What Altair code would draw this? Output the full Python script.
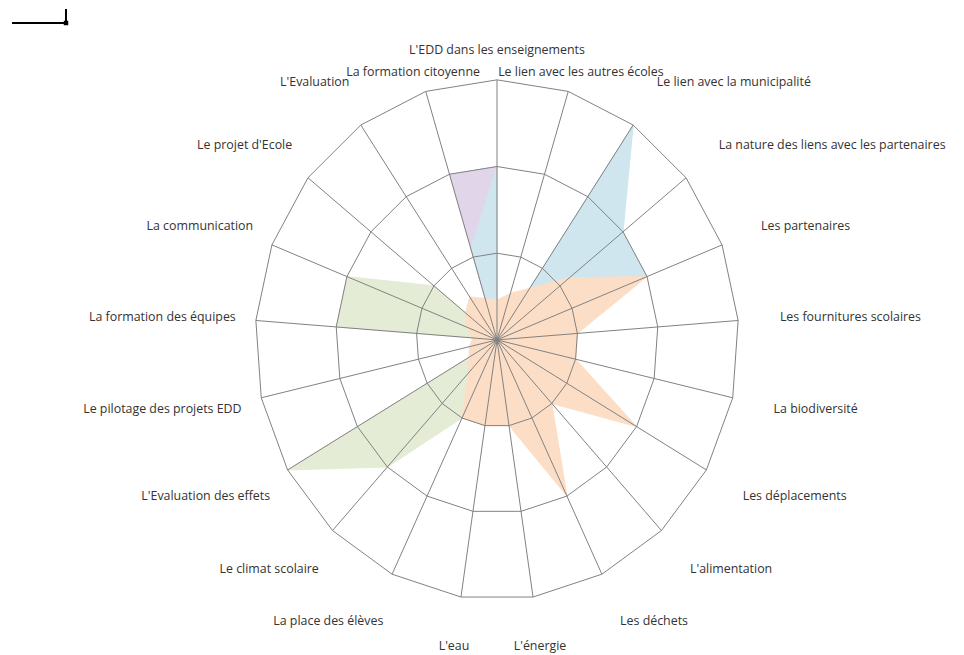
import altair as alt
import pandas as pd

# ---- data -------------------------------------------------------------
categories = [
    "L'EDD dans les enseignements",
    "Le lien avec les autres écoles",
    "Le lien avec la municipalité",
    "La nature des liens avec les partenaires",
    "Les partenaires",
    "Les fournitures scolaires",
    "La biodiversité",
    "Les déplacements",
    "L'alimentation",
    "Les déchets",
    "L'énergie",
    "L'eau",
    "La place des élèves",
    "Le climat scolaire",
    "L'Evaluation des effets",
    "Le pilotage des projets EDD",
    "La formation des équipes",
    "La communication",
    "Le projet d'Ecole",
    "L'Evaluation",
    "La formation citoyenne",
]

purple_values = [2, 0, 0, 0, 0, 0, 0, 0, 0, 0, 0, 0, 0, 0, 0, 0, 0, 0, 0, 0, 2]
blue_values = [2, 0, 3, 2, 2, 0, 0, 0, 0, 0, 0, 0, 0, 0, 0, 0, 0, 0, 0, 0, 1.1]
green_values = [0, 0, 0, 0, 0, 0, 0, 0, 0, 0, 0, 0, 1, 2, 3, 0, 2, 2, 1, 0, 0]
orange_values = [0.46, 0.56, 0.72, 1.15, 2, 1, 1, 2, 1, 2, 1, 1, 1, 0.52, 0.4,
                 0.35, 0.3, 0.4, 0.5, 0.6, 0.5]
ring_levels = [1, 2, 3]

series_names = ["violet", "bleu", "vert", "orange"]
series_values = [purple_values, blue_values, green_values, orange_values]
series_colors = ["#e1d6e9", "#cfe6ef", "#e5ecd6", "#fcdec6"]

N = len(categories)

rows = []
for name, vals in zip(series_names, series_values):
    for k, v in enumerate(vals):
        rows.append({"series": name, "k": k, "value": v})
series_df = pd.DataFrame(rows)

ring_df = pd.DataFrame([{"level": lv, "k": k} for lv in ring_levels for k in range(N)])
spoke_df = pd.DataFrame({"k": list(range(N)), "outer": [max(ring_levels)] * N})
label_df = pd.DataFrame({"k": list(range(N)), "label": categories})

# ---- scales ------------------------------------------------------------
W, H = 948, 645
xs = alt.Scale(domain=[-6.067, 5.695], nice=False, zero=False)
ys = alt.Scale(domain=[-3.612, 3.829], nice=False, zero=False)
ang = f"datum.k*2*PI/{N}"


def polar(chart, rfield):
    return chart.transform_calculate(
        ang=ang,
        px=f"datum.{rfield}*sin(datum.ang)",
        py=f"datum.{rfield}*cos(datum.ang)",
    )


def series_layer(name, color):
    base = alt.Chart(series_df).transform_filter(alt.datum.series == name)
    return polar(base, "value").mark_line(
        interpolate="linear-closed", fill=color, stroke=color, strokeWidth=1
    ).encode(
        x=alt.X("px:Q", scale=xs, axis=None),
        y=alt.Y("py:Q", scale=ys, axis=None),
        order=alt.Order("k:Q"),
    )


layers = [series_layer(n, c) for n, c in zip(series_names, series_colors)]

grid_color = "#828282"
rings = polar(alt.Chart(ring_df), "level").mark_line(
    interpolate="linear-closed", stroke=grid_color, strokeWidth=1
).encode(
    x=alt.X("px:Q", scale=xs, axis=None),
    y=alt.Y("py:Q", scale=ys, axis=None),
    detail="level:N",
    order=alt.Order("k:Q"),
)

spokes = polar(alt.Chart(spoke_df), "outer").transform_calculate(
    zx="0", zy="0"
).mark_rule(stroke=grid_color, strokeWidth=1).encode(
    x=alt.X("zx:Q", scale=xs, axis=None),
    y=alt.Y("zy:Q", scale=ys, axis=None),
    x2="px:Q",
    y2="py:Q",
)


def label_layer(filter_expr, rx, ry, align):
    base = alt.Chart(label_df).transform_filter(filter_expr).transform_calculate(
        ang=ang,
        lx=f"{rx}*sin(datum.ang)",
        ly=f"{ry}*cos(datum.ang)",
    )
    return base.mark_text(
        align=align, baseline="middle", font="Open Sans", fontSize=12.4,
        color="#333333"
    ).encode(
        x=alt.X("lx:Q", scale=xs, axis=None),
        y=alt.Y("ly:Q", scale=ys, axis=None),
        text="label:N",
    )


s = f"sin(datum.k*2*PI/{N})"
c = f"cos(datum.k*2*PI/{N})"
labels = [
    label_layer(f"abs({s}) < 0.1 && {c} > 0", 3.53, 3.34, "center"),
    label_layer(f"abs({s}) >= 0.1 && abs({s}) < 0.4 && {c} > 0", 3.53, 3.24, "center"),
    label_layer(f"abs({s}) < 0.4 && {c} < 0", 3.58, 3.57, "center"),
    label_layer(f"{s} >= 0.4", 3.52, 3.6, "left"),
    label_layer(f"{s} <= -0.4", 3.25, 3.6, "right"),
]

one = pd.DataFrame({"a": [0]})
deco_h = alt.Chart(one).mark_rule(color="#000000", strokeWidth=2).encode(
    x=alt.value(4), x2=alt.value(58), y=alt.value(15)
)
deco_v = alt.Chart(one).mark_rule(color="#000000", strokeWidth=2).encode(
    x=alt.value(58), y=alt.value(1), y2=alt.value(15)
)
deco_sq = alt.Chart(one).mark_square(color="#000000", size=20, opacity=1).encode(
    x=alt.value(58), y=alt.value(15)
)

chart = alt.layer(
    *layers, rings, spokes, *labels, deco_h, deco_v, deco_sq
).properties(
    width=W, height=H, padding=0,
    autosize=alt.AutoSizeParams(type="none"),
).configure_view(stroke=None)

chart.save("out.html", embed_options={"renderer": "svg", "actions": False})
